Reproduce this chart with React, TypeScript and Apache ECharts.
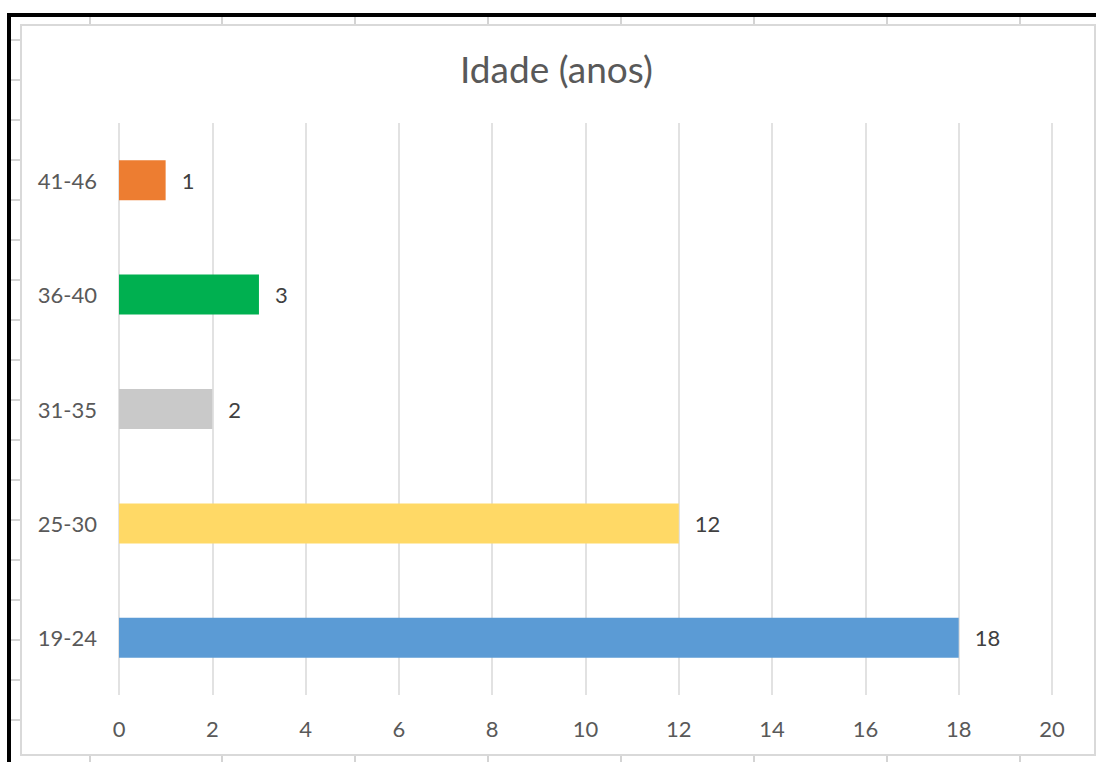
import React, { useEffect, useRef } from "react";
import * as echarts from "echarts";

const categories = ["19-24", "25-30", "31-35", "36-40", "41-46"];
const values = [18, 12, 2, 3, 1];
const barColors = ["#5B9BD5", "#FFD966", "#C9C9C9", "#00B050", "#ED7D31"];
const xTicks = [0, 2, 4, 6, 8, 10, 12, 14, 16, 18, 20];
const title = "Idade (anos)";

const FONT = "Lato, 'Open Sans', sans-serif";

export default function App() {
  const ref = useRef<HTMLDivElement>(null);
  useEffect(() => {
    if (!ref.current) return;
    const chart = echarts.init(ref.current, undefined, { renderer: "svg" });
    const cellLine = "#D4D4D4";
    const graphics: any[] = [];
    const colXs = [90, 222, 355, 488, 621, 754, 887, 1020];
    colXs.forEach((x) => {
      graphics.push({ type: "line", shape: { x1: x, y1: 16, x2: x, y2: 25 }, style: { stroke: cellLine, lineWidth: 2 }, silent: true });
      graphics.push({ type: "line", shape: { x1: x, y1: 755, x2: x, y2: 762 }, style: { stroke: cellLine, lineWidth: 2 }, silent: true });
    });
    for (let y = 40; y <= 720; y += 40) {
      graphics.push({ type: "line", shape: { x1: 11, y1: y, x2: 21, y2: y }, style: { stroke: cellLine, lineWidth: 2 }, silent: true });
    }
    graphics.push({ type: "rect", shape: { x: 21, y: 25, width: 1074, height: 730 }, style: { fill: "none", stroke: "#D9D9D9", lineWidth: 2 }, silent: true });
    graphics.push({ type: "rect", shape: { x: 7, y: 13, width: 1089, height: 4 }, style: { fill: "#000" }, silent: true });
    graphics.push({ type: "rect", shape: { x: 7, y: 13, width: 4, height: 749 }, style: { fill: "#000" }, silent: true });

    chart.setOption({
      animation: false,
      backgroundColor: "#ffffff",
      title: {
        text: title,
        left: 455,
        top: 45,
        textStyle: { fontFamily: FONT, fontSize: 37, fontWeight: "normal", color: "#595959" },
      },
      graphic: graphics,
      grid: { left: 119, right: 44, top: 123, bottom: 67, containLabel: false },
      xAxis: {
        type: "value",
        min: 0,
        max: 20,
        interval: 2,
        axisLine: { show: false },
        axisTick: { show: false },
        splitLine: { show: true, lineStyle: { color: "#D9D9D9", width: 1.5 } },
        axisLabel: {
          margin: 22,
          fontFamily: FONT,
          fontSize: 22,
          color: "#595959",
          formatter: (v: number) => (xTicks.includes(v) ? String(v) : ""),
        },
      },
      yAxis: {
        type: "category",
        data: categories,
        axisLine: { show: false },
        axisTick: { show: false },
        splitLine: { show: false },
        axisLabel: { margin: 22, fontFamily: FONT, fontSize: 22, color: "#595959" },
      },
      series: [
        {
          type: "bar",
          data: values.map((v, i) => ({ value: v, itemStyle: { color: barColors[i] } })),
          barWidth: 40,
          label: {
            show: true,
            position: "right",
            distance: 16,
            fontFamily: FONT,
            fontSize: 22,
            color: "#404040",
          },
        },
      ],
    });
    return () => chart.dispose();
  }, []);
  return (
    <div
      ref={ref}
      style={{ position: "fixed", left: 0, top: 0, width: 1096, height: 762 }}
    />
  );
}
